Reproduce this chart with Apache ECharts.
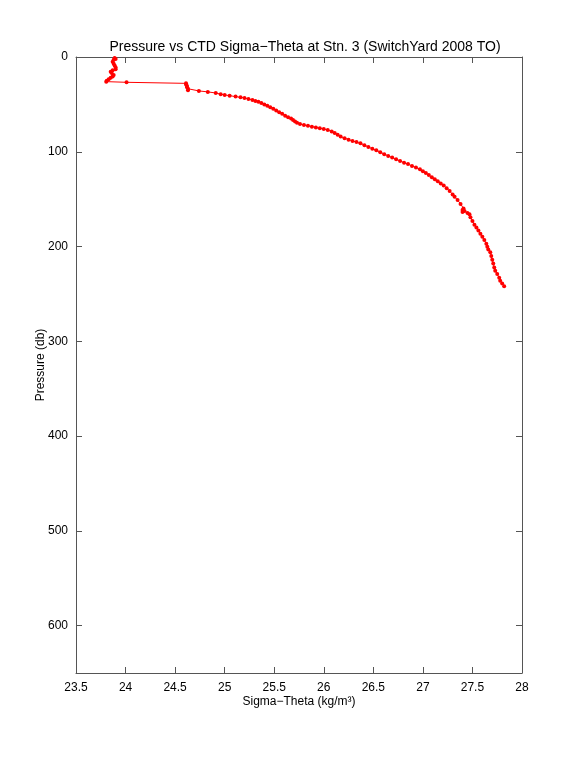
<!DOCTYPE html>
<html><head><meta charset="utf-8">
<script src="https://cdn.jsdelivr.net/npm/echarts@6/dist/echarts.min.js"></script>
<style>html,body{margin:0;padding:0;background:#fff}#c{width:577px;height:757px}</style>
</head><body><div id="c"></div>
<script>
const titleText = "Pressure vs CTD Sigma\u2212Theta at Stn. 3 (SwitchYard 2008 TO)";
const xName = "Sigma\u2212Theta (kg/m\u00b3)";
const yName = "Pressure (db)";
const xTicks = [23.5,24,24.5,25,25.5,26,26.5,27,27.5,28];
const yTicks = [0,100,200,300,400,500,600];
const sigmaTheta = [23.89,23.90,23.88,23.87,23.88,23.89,23.90,23.90,23.87,23.85,23.86,23.88,23.87,23.85,23.83,23.81,23.805,
 24.01,24.61,24.61,24.62,24.62,24.63,24.63,
 24.74,24.83,24.91,24.96,25.00,25.05,25.11,25.16,25.20,25.24,25.28,25.31,25.34,25.37,25.40,25.43,25.46,25.49,25.52,25.55,25.58,25.61,25.64,25.67,25.69,25.71,25.73,25.76,25.80,25.84,25.88,25.92,25.96,26.00,26.04,26.08,26.11,26.14,26.17,26.21,26.25,26.29,26.33,26.37,26.41,26.45,26.49,26.53,26.57,26.61,26.65,26.69,26.73,26.77,26.81,26.85,26.89,26.93,26.97,27.00,27.03,27.06,27.09,27.12,27.15,27.18,27.21,27.24,27.27,27.30,27.32,27.35,27.38,27.41,27.40,27.42,27.40,27.45,27.47,27.48,27.50,27.52,27.54,27.56,27.58,27.60,27.62,27.64,27.65,27.66,27.68,27.69,27.70,27.71,27.72,27.73,27.75,27.77,27.78,27.80,27.82];
const pressure = [1,2,3,5,7,9,11,13,14,15.5,17,19,20.5,22,23.5,25,26,
 26.7,27.8,29,30.5,32,33.5,35,
 35.8,36.8,38.0,39.2,40.0,40.8,41.8,42.5,43.2,44.2,45.3,46.3,47.3,48.6,50,51.5,53,54.5,56.5,58.3,60,62,63.5,65,66.5,68,69.5,70.8,71.8,72.6,73.5,74.3,75.2,76,77,78.5,80.2,82,84,85.7,87.2,88.6,89.8,91.1,93,95,96.8,98.4,100.5,102.5,104.4,106,108,109.8,111.5,113,115,116.6,118.5,120.5,122.5,124.5,126.8,129,131,133.4,135.5,138.5,141.5,145,147.5,151,155,159.8,161.5,162.5,163.5,164.5,166,169,173,177,180,183,186.5,189.8,193,197,200.3,203,206,210,214,218,222,225.5,229,233,236,239,242];

const data = sigmaTheta.map((s,i)=>[s, pressure[i]]);
const axisColor = '#555';
const font = 'Liberation Sans, Arial, Helvetica, sans-serif';
const chart = echarts.init(document.getElementById('c'), null, {renderer:'canvas'});
const tick = {show:true, inside:true, length:6, lineStyle:{color:axisColor}};
const xCommon = {type:'value', min:23.5, max:28, interval:0.5,
  axisLine:{show:true, onZero:false, lineStyle:{color:axisColor, width:1}},
  axisTick:tick, splitLine:{show:false}};
const yCommon = {type:'value', min:0, max:650, interval:100, inverse:true,
  axisLine:{show:true, onZero:false, lineStyle:{color:axisColor, width:1}},
  axisTick:tick, splitLine:{show:false}};
chart.setOption({
  backgroundColor:'#fff',
  animation:false,
  title:{text:titleText, left:300, top:35, textAlign:'center',
    textStyle:{fontFamily:font, fontSize:14, fontWeight:'normal', color:'#000'}},
  grid:{left:76, right:55, top:57, bottom:84, show:false},
  xAxis:[
    Object.assign({}, xCommon, {position:'bottom', name:xName, nameLocation:'middle', nameGap:23,
      nameMoveOverlap:false,
      nameTextStyle:{fontFamily:font, fontSize:12, color:'#000'},
      axisLabel:{show:true, margin:9, fontFamily:font, fontSize:12, color:'#000',
        formatter:v=>xTicks.includes(v)?String(v):''}}),
    Object.assign({}, xCommon, {position:'top', axisLabel:{show:false}})
  ],
  yAxis:[
    Object.assign({}, yCommon, {position:'left', name:yName, nameLocation:'middle', nameGap:29, nameRotate:90,
      nameMoveOverlap:false,
      nameTextStyle:{fontFamily:font, fontSize:12, color:'#000'},
      axisLabel:{show:true, margin:8, fontFamily:font, fontSize:12, color:'#000',
        formatter:v=>yTicks.includes(v)?String(v):''}}),
    Object.assign({}, yCommon, {position:'right', axisLabel:{show:false}})
  ],
  series:[{
    type:'line', xAxisIndex:0, yAxisIndex:0, data:data,
    symbol:'circle', symbolSize:4, showSymbol:true,
    itemStyle:{color:'#ff0000'},
    lineStyle:{color:'#ff0000', width:1},
    silent:true
  }]
});
</script></body></html>
